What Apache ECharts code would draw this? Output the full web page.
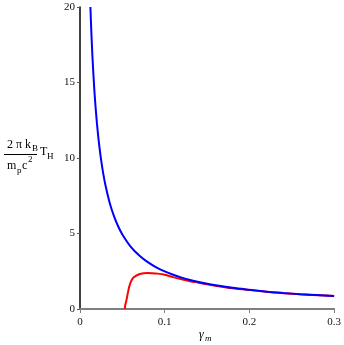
<!DOCTYPE html>
<html>
<head>
<meta charset="utf-8">
<script src="https://cdn.jsdelivr.net/npm/echarts@6/dist/echarts.min.js"></script>
<style>html,body{margin:0;padding:0;background:#fff}#c{width:344px;height:345px}</style>
</head>
<body>
<div id="c"></div>
<script>
var xTicks = [0, 0.1, 0.2, 0.3];
var yTicks = [0, 5, 10, 15, 20];

var blueX = [0.0123, 0.013, 0.014, 0.015, 0.0165, 0.018, 0.02, 0.0225, 0.025, 0.0275, 0.03, 0.035, 0.04, 0.045, 0.05, 0.06, 0.07, 0.08, 0.09, 0.1, 0.11, 0.12, 0.13, 0.14, 0.15, 0.16, 0.18, 0.2, 0.22, 0.24, 0.26, 0.28, 0.3];
var blueY = [20, 18.9, 17.54, 16.37, 14.89, 13.65, 12.29, 10.93, 9.84, 8.95, 8.21, 7.04, 6.17, 5.48, 4.94, 4.12, 3.54, 3.10, 2.76, 2.49, 2.27, 2.08, 1.92, 1.79, 1.67, 1.57, 1.40, 1.27, 1.15, 1.06, 0.98, 0.92, 0.86];

var redX = [0.0529, 0.0532, 0.0535, 0.054, 0.0545, 0.0556, 0.057, 0.0585, 0.06, 0.0625, 0.065, 0.07, 0.075, 0.08, 0.085, 0.09, 0.1, 0.11, 0.12, 0.13, 0.14, 0.15, 0.16, 0.18, 0.2, 0.22, 0.24, 0.26, 0.28, 0.3];
var redY = [0, 0.18, 0.28, 0.4, 0.5, 0.8, 1.2, 1.55, 1.8, 2.05, 2.16, 2.30, 2.36, 2.38, 2.37, 2.35, 2.27, 2.11, 1.97, 1.84, 1.74, 1.63, 1.54, 1.38, 1.255, 1.14, 1.05, 0.975, 0.915, 0.855];

function pairs(xs, ys) { return xs.map(function (x, i) { return [x, ys[i]]; }); }

var serif = '"Liberation Serif", "DejaVu Serif", serif';
var chart = echarts.init(document.getElementById('c'), null, { renderer: 'canvas' });

function txt(t, x, y, size, opts) {
  opts = opts || {};
  return {
    type: 'text', left: x, top: y, silent: true,
    style: { text: t, font: (opts.italic ? 'italic ' : '') + size + 'px ' + serif, fill: '#000' }
  };
}

chart.setOption({
  animation: false,
  backgroundColor: '#fff',
  grid: { left: 80, right: 7, top: 7, bottom: 36, containLabel: false },
  xAxis: {
    type: 'value', min: 0, max: 0.3, interval: 0.1,
    axisLine: { show: true, onZero: false, lineStyle: { color: '#7f7f7f', width: 2 } },
    axisTick: { show: true, inside: false, length: 4, lineStyle: { color: '#7f7f7f', width: 1 } },
    axisLabel: { color: '#111', fontFamily: serif, fontSize: 11, margin: 8,
      formatter: function (v) { return xTicks.indexOf(Math.round(v * 10) / 10) >= 0 ? String(Math.round(v * 10) / 10) : ''; } },
    splitLine: { show: false }
  },
  yAxis: {
    type: 'value', min: 0, max: 20, interval: 5,
    axisLine: { show: true, lineStyle: { color: '#000', width: 1.5 } },
    axisTick: { show: true, inside: false, length: 3, lineStyle: { color: '#555', width: 1 } },
    axisLabel: { color: '#111', fontFamily: serif, fontSize: 11, margin: 5,
      formatter: function (v) { return yTicks.indexOf(v) >= 0 ? String(v) : ''; } },
    splitLine: { show: false }
  },
  series: [
    { type: 'line', data: pairs(blueX, blueY), showSymbol: false, symbol: 'none', smooth: 0.3,
      lineStyle: { color: '#0000ff', width: 2 }, clip: true, z: 3 },
    { type: 'line', data: pairs(redX, redY), showSymbol: false, symbol: 'none', smooth: 0.3,
      lineStyle: { color: '#ff0000', width: 2 }, clip: true, z: 2 }
  ],
  graphic: [
    txt('2 π k', 7, 139, 12),
    txt('B', 32, 144, 9),
    { type: 'line', silent: true, shape: { x1: 4, y1: 154.5, x2: 37, y2: 154.5 }, style: { stroke: '#000', lineWidth: 1 } },
    txt('m', 7, 160, 12),
    txt('p', 17, 166, 9),
    txt('c', 22, 160, 12),
    txt('2', 28, 155, 9),
    txt('T', 40, 146, 12),
    txt('H', 47, 152, 9),
    txt('γ', 199, 329, 12, { italic: true }),
    txt('m', 205, 334, 9, { italic: true })
  ]
});
</script>
</body>
</html>
